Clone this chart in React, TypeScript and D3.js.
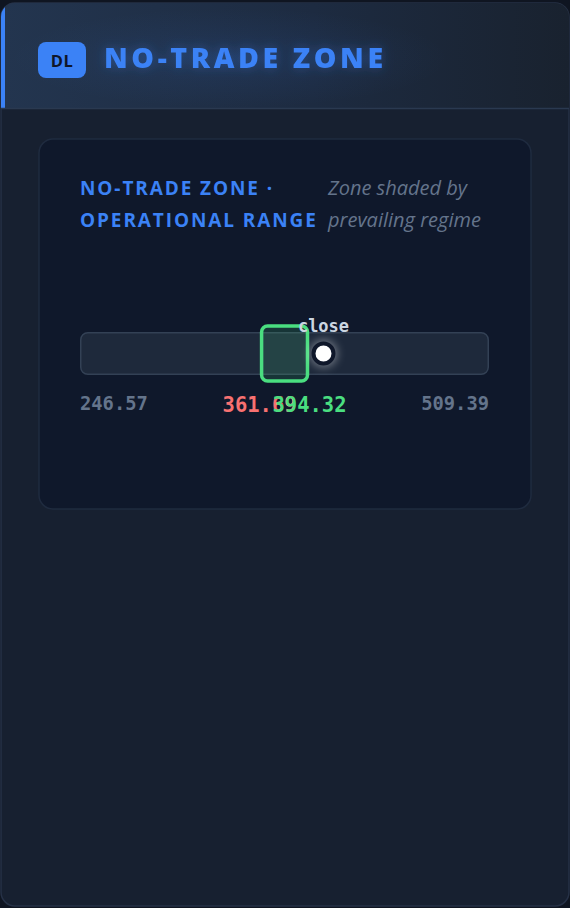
import React from "react";
import * as d3 from "d3";

const rangeLabels = ["246.57", "509.39"];
const rangeValues = [246.57, 509.39];
const zoneValues = [361.69, 394.32];
const zoneLabels = ["361.69", "394.32"];
const closeValue = [403.47];
const closeLabel = ["close"];
const titleText = ["NO-TRADE ZONE"];
const subtitleLines = ["NO-TRADE ZONE ·", "OPERATIONAL RANGE"];
const noteLines = ["Zone shaded by", "prevailing regime"];

const W = 570;
const H = 908;
const SANS = "'Open Sans', 'Noto Sans', sans-serif";
const MONO = "'DejaVu Sans Mono', 'Liberation Mono', monospace";

export default function App() {
  const trackX0 = 80;
  const trackX1 = 489;
  const x = d3.scaleLinear().domain(rangeValues).range([trackX0 + 3.5, trackX1 - 3.5]);
  const trackY = 332;
  const trackH = 43;
  const zx0 = x(zoneValues[0]);
  const zx1 = x(zoneValues[1]);
  const cx = x(closeValue[0]);
  const cy = trackY + trackH / 2;

  return (
    <div style={{ position: "fixed", left: 0, top: 0, width: W, height: H, background: "#0f1521" }}>
      <svg width={W} height={H} viewBox={`0 0 ${W} ${H}`} style={{ display: "block" }}>
        <defs>
          <linearGradient id="hdr" x1="0" x2="1" y1="0" y2="0">
            <stop offset="0" stopColor="#23354f" />
            <stop offset="0.55" stopColor="#1d2b41" />
            <stop offset="1" stopColor="#19222f" />
          </linearGradient>
          <radialGradient id="glow" cx="0.5" cy="0.5" r="0.5">
            <stop offset="0" stopColor="#3b82f6" stopOpacity="0.1" />
            <stop offset="1" stopColor="#3b82f6" stopOpacity="0" />
          </radialGradient>
          <clipPath id="cardClip">
            <rect x={1} y={3} width={568} height={903} rx={14} />
          </clipPath>
          <filter id="tglow" x="-20%" y="-60%" width="140%" height="220%">
            <feGaussianBlur in="SourceAlpha" stdDeviation="6" result="b" />
            <feFlood floodColor="#3b82f6" floodOpacity="0.35" />
            <feComposite in2="b" operator="in" result="g" />
            <feMerge>
              <feMergeNode in="g" />
              <feMergeNode in="SourceGraphic" />
            </feMerge>
          </filter>
          <filter id="dglow" x="-100%" y="-100%" width="300%" height="300%">
            <feGaussianBlur stdDeviation="4" />
          </filter>
        </defs>

        <rect x={1} y={3} width={568} height={903} rx={14} fill="#172030" stroke="#263146" strokeWidth={1.5} />
        <g clipPath="url(#cardClip)">
          <rect x={1} y={3} width={568} height={105} fill="url(#hdr)" />
          <ellipse cx={230} cy={58} rx={220} ry={50} fill="url(#glow)" />
          <rect x={1} y={3} width={4} height={105} fill="#3b82f6" />
          <line x1={1} x2={569} y1={108.5} y2={108.5} stroke="#2a3950" strokeWidth={1.5} />
        </g>

        <rect x={38} y={42} width={48} height={36} rx={8} fill="#3b82f6" />
        <text x={62} y={67} textAnchor="middle" fontFamily={SANS} fontWeight={700} fontSize={16.5} fill="#0f172a" letterSpacing={0.5}>
          DL
        </text>
        <text x={104} y={68} fontFamily={SANS} fontWeight={800} fontSize={28.5} fill="#3b82f6" letterSpacing={3.6} filter="url(#tglow)">
          {titleText[0]}
        </text>

        <rect x={39} y={139} width={492} height={370} rx={14} fill="#0f182b" stroke="#1f2b3f" strokeWidth={1.5} />

        {subtitleLines.map((s, i) => (
          <text key={s} x={80} y={195 + i * 32} fontFamily={SANS} fontWeight={700} fontSize={19} fill="#3b82f6" letterSpacing={1.9}>
            {s}
          </text>
        ))}
        {noteLines.map((s, i) => (
          <text key={s} x={328} y={195 + i * 32} fontFamily={SANS} fontStyle="italic" fontSize={20} fill="#64748b">
            {s}
          </text>
        ))}

        <rect x={trackX0 + 0.75} y={trackY + 0.75} width={trackX1 - trackX0 - 1.5} height={trackH - 1.5} rx={7} fill="#1e293b" stroke="#334155" strokeWidth={1.5} />

        <rect
          x={zx0 + 2}
          y={trackY - 6}
          width={zx1 - zx0 - 4}
          height={trackH + 12}
          rx={6}
          fill="#4ade80"
          fillOpacity={0.15}
          stroke="#4ade80"
          strokeWidth={3.5}
        />

        <circle cx={cx} cy={cy} r={14} fill="#ffffff" opacity={0.35} filter="url(#dglow)" />
        <circle cx={cx} cy={cy} r={10} fill="#ffffff" stroke="#0f172a" strokeWidth={4} />
        <text x={cx} y={332} textAnchor="middle" fontFamily={MONO} fontWeight={700} fontSize={17} fill="#cbd5e1">
          {closeLabel[0]}
        </text>

        <text x={trackX0} y={410} fontFamily={MONO} fontWeight={700} fontSize={18.8} fill="#64748b">
          {rangeLabels[0]}
        </text>
        <text x={trackX1} y={410} textAnchor="end" fontFamily={MONO} fontWeight={700} fontSize={18.8} fill="#64748b">
          {rangeLabels[1]}
        </text>
        <text x={zx0} y={412} textAnchor="middle" fontFamily={MONO} fontWeight={700} fontSize={20.5} fill="#f87171">
          {zoneLabels[0]}
        </text>
        <text x={zx1} y={412} textAnchor="middle" fontFamily={MONO} fontWeight={700} fontSize={20.5} fill="#4ade80">
          {zoneLabels[1]}
        </text>
      </svg>
    </div>
  );
}
